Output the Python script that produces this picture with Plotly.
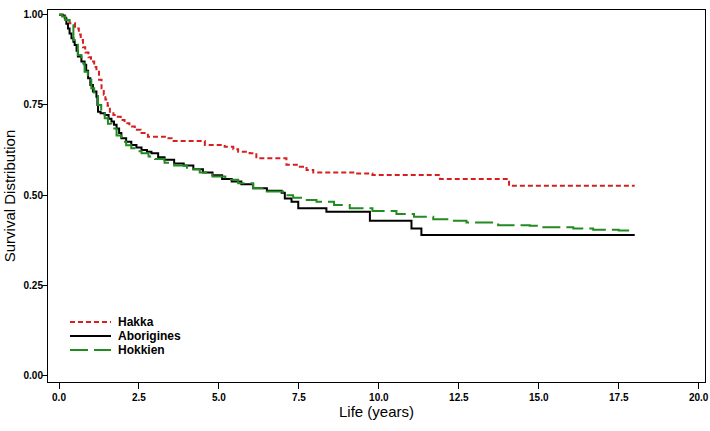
import plotly.graph_objects as go

# Kaplan-Meier step data (time in years, survival probability)
hakka_t = [0, 0.2, 0.33, 0.5, 0.62, 0.68, 0.75, 0.82, 0.92, 1.0, 1.1, 1.17, 1.25, 1.33, 1.4, 1.45,
           1.52, 1.59, 1.7, 1.8, 1.93, 2.05, 2.2, 2.37, 2.55, 2.78, 3.31, 3.52, 4.56, 5.18, 5.45,
           5.6, 5.96, 6.17, 7.11, 7.53, 7.74, 7.95, 9.2, 9.8, 11.91, 14.07, 18.0]
hakka_s = [1.0, 0.985, 0.976, 0.962, 0.945, 0.93, 0.91, 0.895, 0.882, 0.87, 0.855, 0.842, 0.82,
           0.796, 0.778, 0.765, 0.748, 0.731, 0.722, 0.717, 0.708, 0.699, 0.69, 0.681, 0.672,
           0.662, 0.658, 0.650, 0.639, 0.634, 0.627, 0.62, 0.616, 0.602, 0.584, 0.579, 0.570,
           0.563, 0.560, 0.556, 0.545, 0.526, 0.526]

abor_t = [0, 0.1, 0.18, 0.23, 0.28, 0.33, 0.39, 0.45, 0.49, 0.55, 0.59, 0.70, 0.80, 0.85, 0.91,
          0.98, 1.06, 1.17, 1.2, 1.22, 1.3, 1.43, 1.55, 1.64, 1.72, 1.80, 1.88, 1.95, 2.1, 2.26,
          2.42, 2.58, 2.75, 2.89, 3.1, 3.3, 3.6, 3.9, 4.2, 4.5, 4.8, 5.1, 5.4, 5.7, 6.07, 6.5,
          6.96, 7.06, 7.27, 7.48, 8.36, 9.72, 11.02, 11.33, 18.0]
abor_s = [1.0, 0.998, 0.99, 0.975, 0.962, 0.948, 0.935, 0.925, 0.916, 0.9, 0.884, 0.870, 0.861,
          0.845, 0.824, 0.805, 0.787, 0.773, 0.75, 0.731, 0.727, 0.722, 0.712, 0.704, 0.695,
          0.685, 0.672, 0.658, 0.648, 0.639, 0.632, 0.625, 0.62, 0.616, 0.605, 0.598, 0.588,
          0.582, 0.572, 0.563, 0.555, 0.545, 0.538, 0.53, 0.519, 0.512, 0.507, 0.491, 0.482,
          0.464, 0.454, 0.429, 0.408, 0.39, 0.39]

hokk_t = [0, 0.1, 0.2, 0.33, 0.45, 0.59, 0.7, 0.8, 0.9, 1.01, 1.1, 1.22, 1.32, 1.43, 1.53, 1.64,
          1.8, 1.95, 2.1, 2.26, 2.42, 2.58, 2.8, 3.0, 3.3, 3.6, 4.0, 4.4, 4.8, 5.2, 5.6, 6.07,
          6.5, 7.0, 7.32, 7.7, 8.05, 8.6, 9.09, 9.8, 10.55, 11.1, 11.7, 12.22, 12.74, 13.73,
          14.72, 15.03, 16.08, 16.7, 17.5, 18.0]
hokk_s = [1.0, 0.995, 0.985, 0.971, 0.93, 0.888, 0.865, 0.842, 0.82, 0.796, 0.775, 0.75, 0.73,
          0.713, 0.698, 0.685, 0.665, 0.648, 0.638, 0.630, 0.622, 0.616, 0.607, 0.600, 0.59,
          0.582, 0.572, 0.563, 0.552, 0.543, 0.533, 0.519, 0.51, 0.5, 0.493, 0.487, 0.482,
          0.473, 0.464, 0.456, 0.448, 0.44, 0.433, 0.429, 0.424, 0.417, 0.415, 0.411, 0.408,
          0.404, 0.402, 0.402]

series_names = ["Hakka", "Aborigines", "Hokkien"]
x_ticks = [0, 2.5, 5, 7.5, 10, 12.5, 15, 17.5, 20]
y_ticks = [0, 0.25, 0.5, 0.75, 1.0]

colors = ["#d62020", "black", "#228b22"]
dashes = ["5px,3px", "solid", "18px,6px"]
widths = [2, 2, 2]

fig = go.Figure()
for t, s, name, c, d, w in zip([hakka_t, abor_t, hokk_t], [hakka_s, abor_s, hokk_s],
                               series_names, colors, dashes, widths):
    fig.add_trace(go.Scatter(x=t, y=s, mode="lines", line_shape="hv", name=name,
                             line=dict(color=c, width=w, dash=d), showlegend=False))

# Compact legend (SAS-style) drawn as shapes + text in paper coordinates
W, H = 710, 431
ml, mr, mt, mb = 48, 5, 10, 49
pw, ph = W - ml - mr, H - mt - mb
def px2paper_x(px):
    return (px - ml) / pw
def px2paper_y(py):
    return (H - mb - py) / ph

shapes = []
annotations = []
for i, (name, c, d, w) in enumerate(zip(series_names, colors, dashes, widths)):
    yy = px2paper_y(322 + 14 * i)
    shapes.append(dict(type="line", xref="paper", yref="paper",
                       x0=px2paper_x(70), x1=px2paper_x(111), y0=yy, y1=yy,
                       line=dict(color=c, width=w, dash=d)))
    annotations.append(dict(xref="paper", yref="paper", x=px2paper_x(116), y=yy,
                            xanchor="left", yanchor="middle", text=name, showarrow=False,
                            font=dict(size=12, weight="bold", color="black")))

tickfont = dict(family="Liberation Sans, Arial, sans-serif", size=10,
                color="black", weight="bold")

fig.update_layout(
    width=W, height=H,
    margin=dict(l=ml, r=mr, t=mt, b=mb),
    paper_bgcolor="white", plot_bgcolor="white",
    font=dict(family="Liberation Sans, Arial, sans-serif", color="black"),
    showlegend=False,
    shapes=shapes, annotations=annotations,
    xaxis=dict(range=[-0.344, 20.197], tickvals=x_ticks, tickformat=".1f",
               showline=True, linecolor="black", linewidth=1, mirror=True,
               ticks="outside", ticklen=6, tickcolor="black", showgrid=False, zeroline=False,
               tickfont=tickfont, automargin=False, ticklabelstandoff=0,
               ticklabeloverflow="allow",
               title=dict(text="Life (years)", font=dict(size=15), standoff=2)),
    yaxis=dict(range=[-0.0175, 1.013], tickvals=y_ticks, tickformat=".2f",
               showline=True, linecolor="black", linewidth=1, mirror=True,
               ticks="outside", ticklen=5, tickcolor="black", showgrid=False, zeroline=False,
               tickfont=tickfont, automargin=False, ticklabelstandoff=-3,
               ticklabeloverflow="allow",
               title=dict(text="Survival Distribution", font=dict(size=15), standoff=4)),
)

fig.write_html("out.html", config={"displayModeBar": False},
               post_script="document.body.style.margin='0';")
